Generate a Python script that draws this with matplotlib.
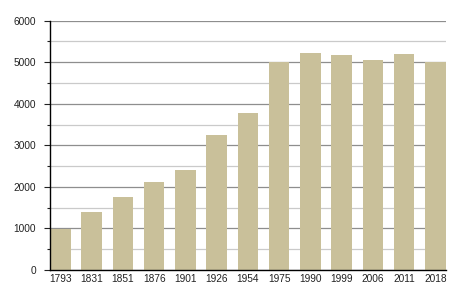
import matplotlib
matplotlib.use("Agg")
import matplotlib.pyplot as plt
import numpy as np

years = ["1793", "1831", "1851", "1876", "1901", "1926", "1954",
         "1975", "1990", "1999", "2006", "2011", "2018"]
population = [990, 1394, 1755, 2115, 2404, 3245, 3767,
              5000, 5216, 5168, 5064, 5192, 5000]

BAR_COLOR = "#c9c09a"
SLOT = 31.3
WIDTH = 20.7

plt.rcParams["font.family"] = ["Liberation Sans", "DejaVu Sans"]

fig = plt.figure(figsize=(4.55, 3.0), dpi=100)
ax = fig.add_axes([50 / 455, 30 / 300, 395.7 / 455, 249.3 / 300])

x = np.arange(len(years)) * SLOT
ax.bar(x, population, width=WIDTH, color=BAR_COLOR, zorder=3)

ax.set_xlim(x[0] - WIDTH / 2, x[-1] + WIDTH / 2)
ax.set_ylim(0, 6000)

ax.set_yticks(np.arange(0, 6001, 1000))
ax.set_yticks(np.arange(500, 6000, 1000), minor=True)
ax.grid(axis="y", which="major", color="#8e8e8e", linewidth=0.9, zorder=1)
ax.grid(axis="y", which="minor", color="#cacaca", linewidth=0.9, zorder=1)

ax.set_xticks(x)
ax.set_xticklabels(years)

ax.tick_params(axis="x", length=0, pad=3, labelsize=7.3, colors="#222222")
ax.tick_params(axis="y", which="major", length=4, width=0.8, pad=6,
               labelsize=7.3, colors="#222222")
ax.tick_params(axis="y", which="minor", length=2, width=0.8, color="#222222")

for side in ["top", "right"]:
    ax.spines[side].set_visible(False)
for side in ["left", "bottom"]:
    ax.spines[side].set_color("black")
    ax.spines[side].set_linewidth(1.0)
    ax.spines[side].set_zorder(4)

fig.savefig("out.png", dpi=100)
